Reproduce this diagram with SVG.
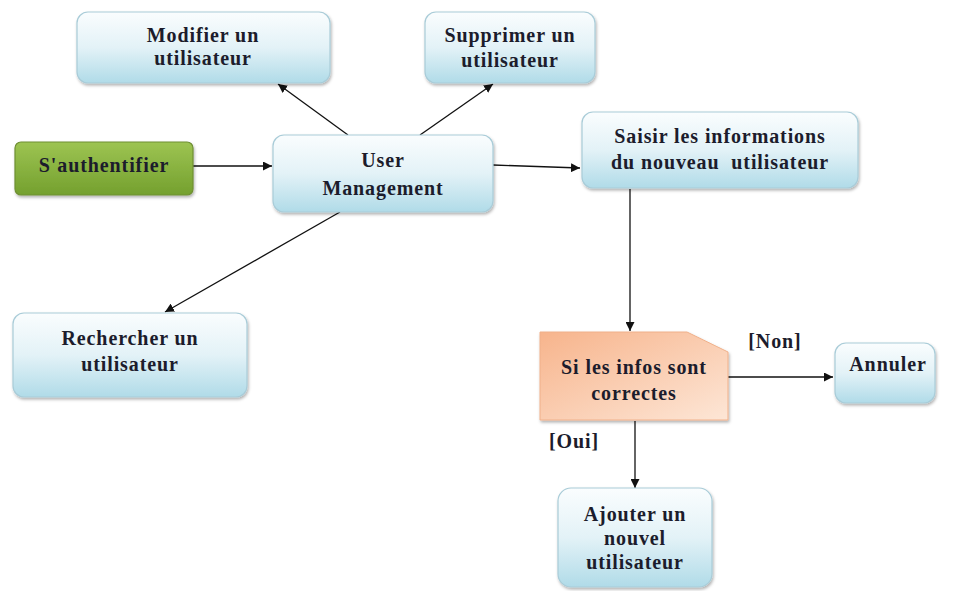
<svg xmlns="http://www.w3.org/2000/svg" width="965" height="591" viewBox="0 0 965 591">
<style>
.box{fill:url(#blue);stroke:#a9ccd8;stroke-width:1.2;filter:url(#sh)}
.green{fill:url(#grn);stroke:#6f8f33;stroke-width:1.2;filter:url(#sh)}
.note{fill:url(#org);stroke:#f0b08a;stroke-width:1;filter:url(#sh)}
.t{font-family:"Liberation Serif","Times New Roman",serif;font-weight:bold;font-size:20px;letter-spacing:0.9px;fill:#1c1c2c;text-anchor:middle}
.c{stroke:#111;stroke-width:1.3;fill:none;marker-end:url(#ar)}
</style>
<defs>
<linearGradient id="blue" x1="0" y1="0" x2="0" y2="1"><stop offset="0" stop-color="#fafdfe"/><stop offset="0.5" stop-color="#e3f2f7"/><stop offset="1" stop-color="#b0dbe8"/></linearGradient>
<linearGradient id="grn" x1="0" y1="0" x2="0" y2="1"><stop offset="0" stop-color="#9dc452"/><stop offset="1" stop-color="#74a02e"/></linearGradient>
<linearGradient id="org" x1="0" y1="0" x2="1" y2="1"><stop offset="0" stop-color="#f7b48c"/><stop offset="1" stop-color="#fde6d6"/></linearGradient>
<filter id="sh" x="-10%" y="-10%" width="120%" height="130%"><feDropShadow dx="1" dy="2" stdDeviation="1.5" flood-color="#000" flood-opacity="0.3"/></filter>
<marker id="ar" viewBox="0 0 10 10" refX="10" refY="5" markerWidth="9" markerHeight="9" markerUnits="userSpaceOnUse" orient="auto"><path d="M0,0 L10,5 L0,10 Z" fill="#111"/></marker>
</defs>
<rect width="965" height="591" fill="#fff"/>
<g id="connectors">
<line class="c" x1="193" y1="166" x2="272" y2="166"/>
<line class="c" x1="348" y1="135" x2="278" y2="84"/>
<line class="c" x1="420" y1="135" x2="493" y2="84"/>
<line class="c" x1="493" y1="165" x2="580" y2="168"/>
<line class="c" x1="340" y1="212" x2="165" y2="312"/>
<line class="c" x1="630" y1="189" x2="630" y2="331"/>
<line class="c" x1="728" y1="377" x2="833" y2="377"/>
<line class="c" x1="635" y1="421" x2="635" y2="488"/>
</g>
<g id="modifier"><rect class="box" x="77" y="12" width="253" height="71" rx="11"/><text class="t" x="203" y="42">Modifier un</text><text class="t" x="203" y="65">utilisateur</text></g>
<g id="supprimer"><rect class="box" x="425" y="12" width="170" height="71" rx="11"/><text class="t" x="510" y="42">Supprimer un</text><text class="t" x="510" y="67">utilisateur</text></g>
<g id="auth"><rect class="green" x="15" y="142" width="178" height="53" rx="6"/><text class="t" x="104" y="172">S'authentifier</text></g>
<g id="usermgmt"><rect class="box" x="273" y="135" width="220" height="77" rx="11"/><text class="t" x="383" y="167">User</text><text class="t" x="383" y="195">Management</text></g>
<g id="saisir"><rect class="box" x="582" y="112" width="276" height="76" rx="11"/><text class="t" x="720" y="143">Saisir les informations</text><text class="t" x="720" y="169" xml:space="preserve">du nouveau  utilisateur</text></g>
<g id="rechercher"><rect class="box" x="13" y="313" width="234" height="84" rx="11"/><text class="t" x="130" y="345">Rechercher un</text><text class="t" x="130" y="371">utilisateur</text></g>
<g id="decision"><path class="note" d="M540,332 L687,332 L728,352 L728,420 L540,420 Z"/><text class="t" x="634" y="374">Si les infos sont</text><text class="t" x="634" y="400">correctes</text></g>
<g id="annuler"><rect class="box" x="835" y="343" width="100" height="60" rx="11"/><text class="t" x="888" y="371">Annuler</text></g>
<g id="ajouter"><rect class="box" x="558" y="488" width="154" height="99" rx="13"/><text class="t" x="635" y="521">Ajouter un</text><text class="t" x="635" y="545">nouvel</text><text class="t" x="635" y="569">utilisateur</text></g>
<g id="labels"><text class="t" x="775" y="348">[Non]</text><text class="t" x="574" y="448">[Oui]</text></g>
</svg>
